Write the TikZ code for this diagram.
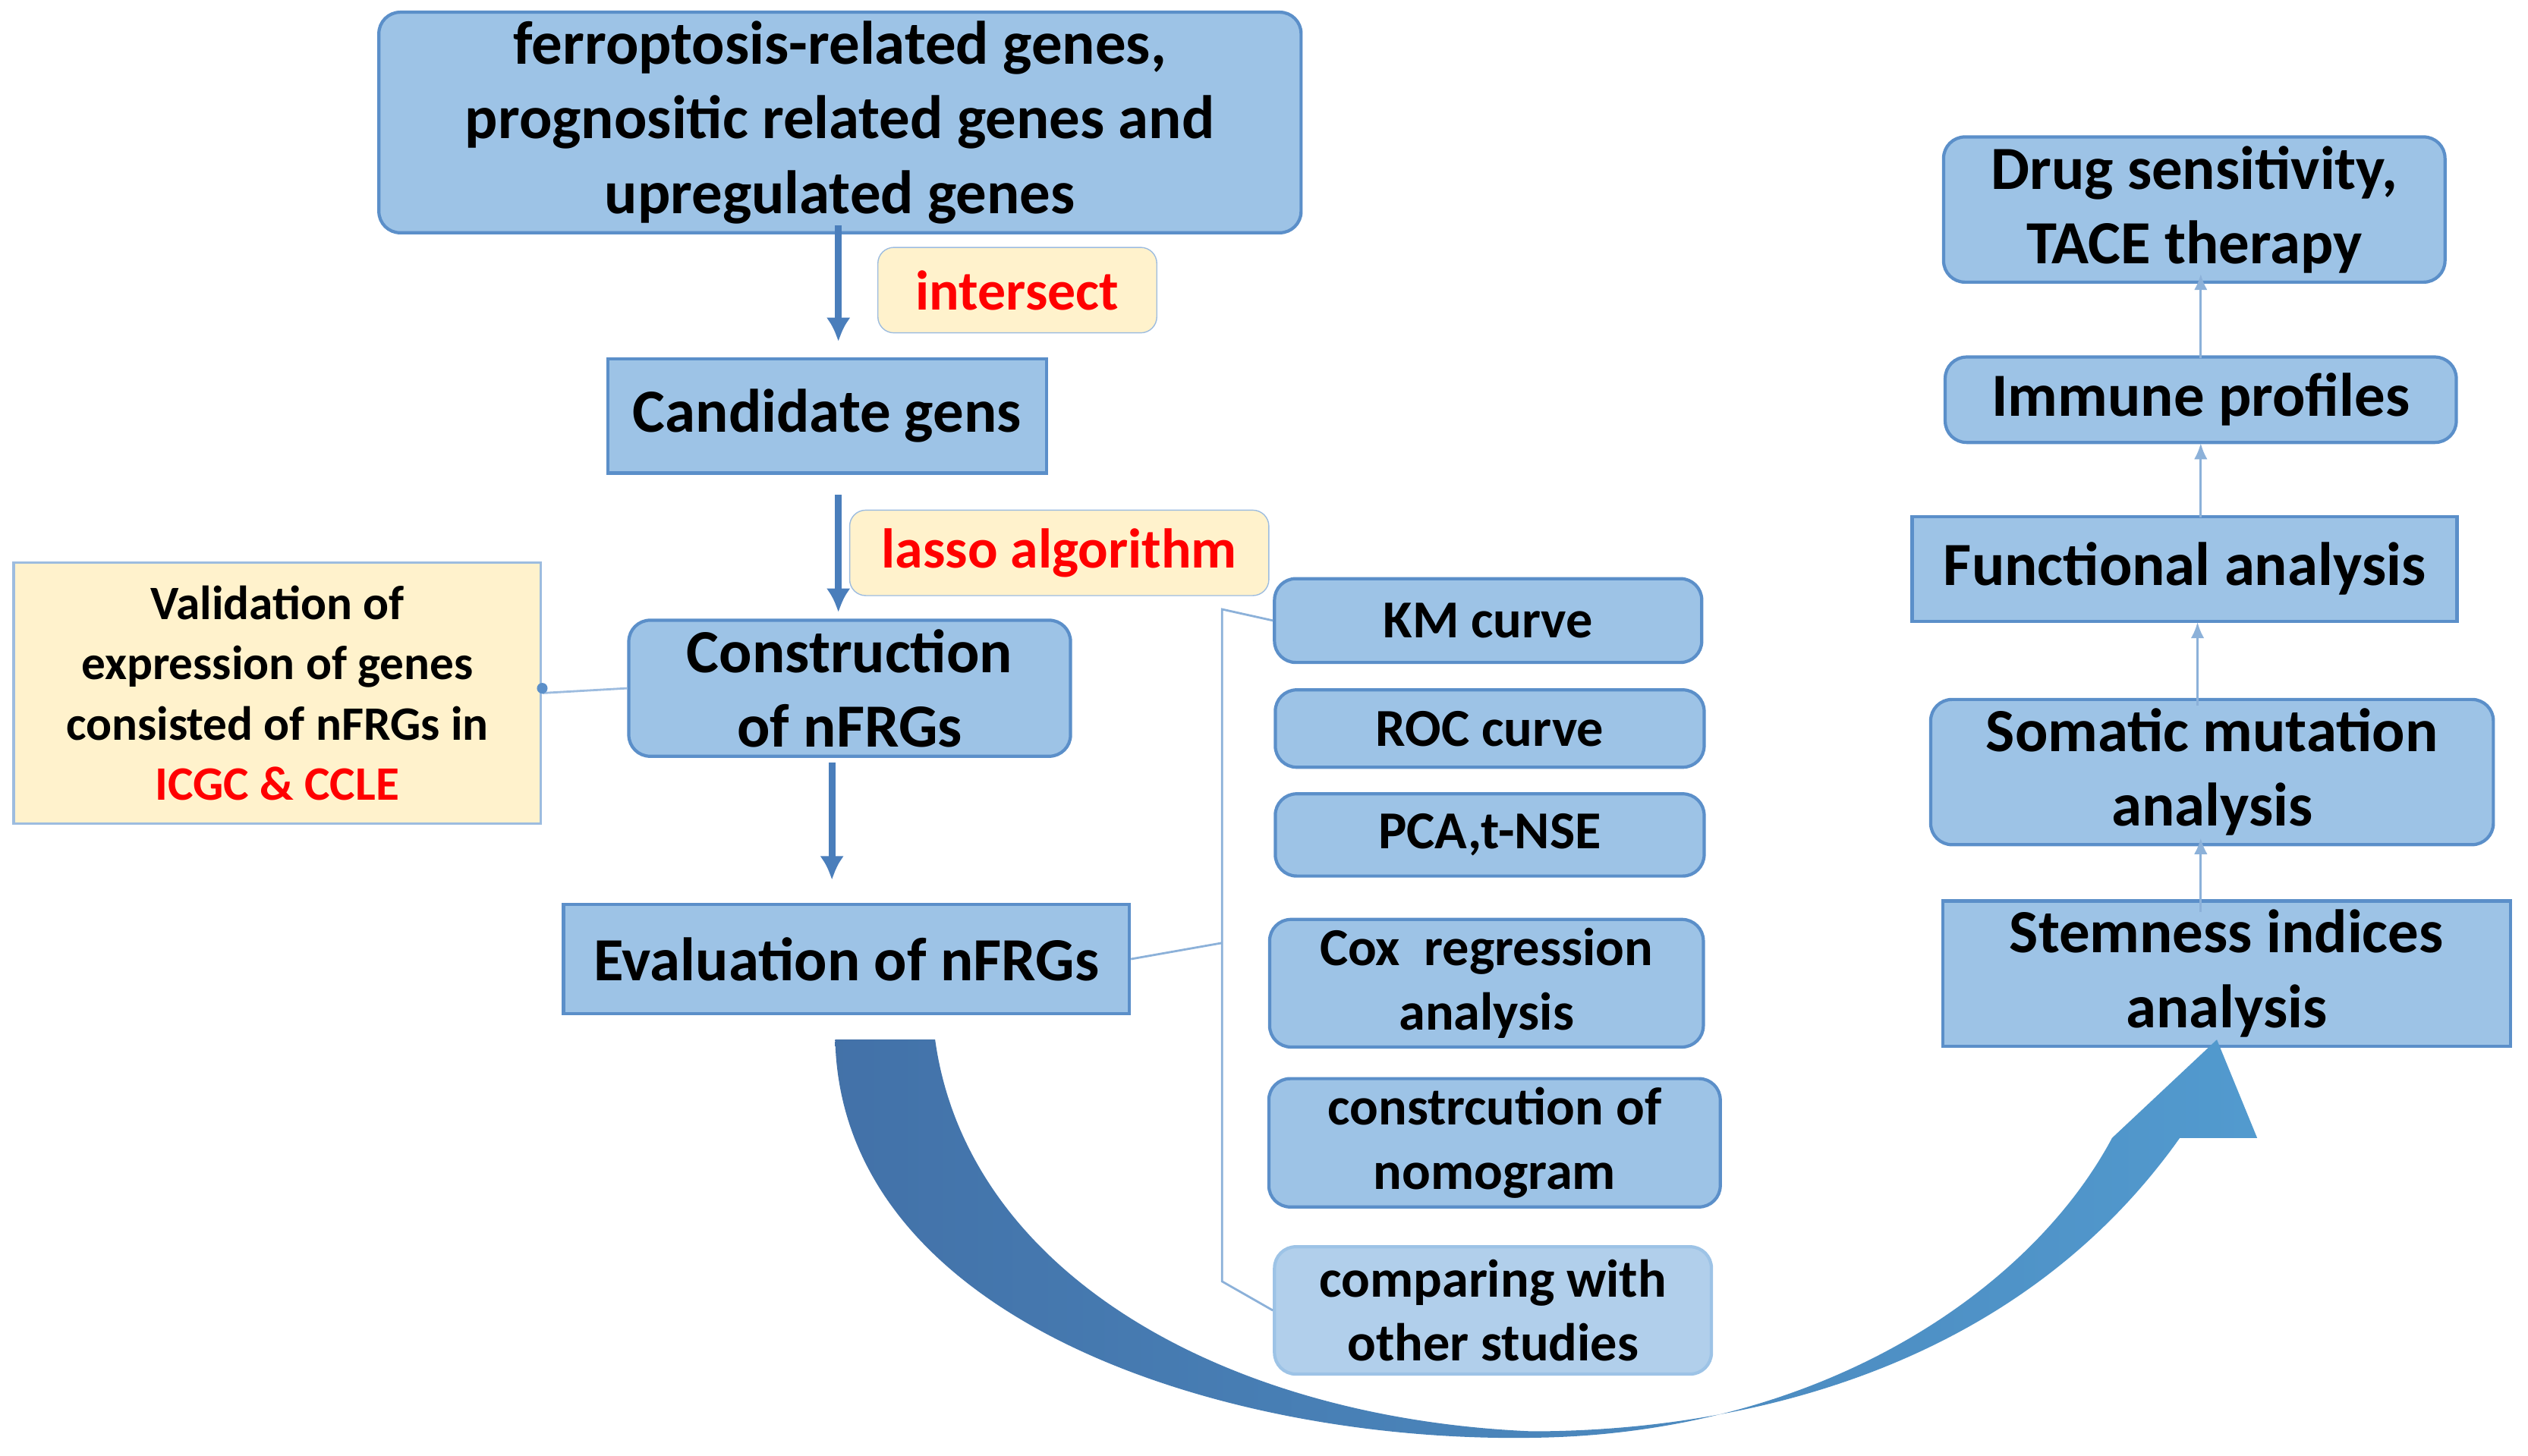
\documentclass[tikz,border=0pt]{standalone}
\usepackage{fontspec}
\setmainfont{Carlito}
\usepackage{xcolor}
\usetikzlibrary{calc,arrows.meta}
\definecolor{boxfill}{HTML}{9DC3E6}
\definecolor{boxline}{HTML}{5B8FC9}
\definecolor{noteyel}{HTML}{FFF2CC}
\definecolor{arrblue}{HTML}{4A7EBB}
\tikzset{
	box/.style={draw=boxline, fill=boxfill, line width=1.2pt, align=center, font=\fontsize{23}{28}\selectfont\bfseries},
	rbox/.style={box, rounded corners=8pt},
	sbox/.style={rbox, font=\fontsize{20}{24}\selectfont\bfseries},
	note/.style={draw=boxline!60, fill=noteyel, rounded corners=6pt, font=\fontsize{21}{25}\selectfont\bfseries, text=red},
	flow/.style={draw=arrblue, line width=2.5pt, -{Latex[length=9pt,width=9pt]}},
	thin/.style={draw=boxline!70, line width=0.8pt, -{Latex[length=6pt,width=5pt]}}
}
\begin{document}
\begin{tikzpicture}[x=0.02124cm, y=-0.02124cm]
		\useasboundingbox (0,0) rectangle (1568,903);
		% left column
		\node[rbox, minimum width=572*0.02124cm, minimum height=124*0.02124cm] (genes) at (521,76)
			{ferroptosis-related genes,\\prognositic related genes and\\upregulated genes};
		\node[note, minimum width=173*0.02124cm, minimum height=53*0.02124cm] (inter) at (631,180) {intersect};
		\node[box, minimum width=272*0.02124cm, minimum height=71*0.02124cm] (cand) at (513,258) {Candidate gens};
		\node[note, minimum width=260*0.02124cm, minimum height=53*0.02124cm] (lasso) at (657,343) {lasso algorithm};
		\node[rbox, minimum width=274*0.02124cm, minimum height=73*0.02124cm] (cons) at (527,427) {Construction\\of nFRGs};
		\node[draw=boxline!60, fill=noteyel, line width=1pt, align=center, font=\fontsize{18}{22.5}\selectfont\bfseries,
			minimum width=327*0.02124cm, minimum height=162*0.02124cm] (valid) at (172,430)
			{Validation of\\expression of genes\\consisted of nFRGs in\\\textcolor{red}{ICGC \& CCLE}};
		\node[box, minimum width=351*0.02124cm, minimum height=68*0.02124cm] (eval) at (525,595) {Evaluation of nFRGs};
		\draw[flow] (520,140) -- (520,212);
		\draw[flow] (520,307) -- (520,380);
		\draw[flow] (516,473) -- (516,546);
		\draw[boxline!60, line width=0.8pt] (cons.west) -- (valid.east);
		\fill[boxline] (cons.west -| valid.east) circle (2pt);
		% evaluation items
		\node[sbox, minimum width=265*0.02124cm, minimum height=52*0.02124cm] (km) at (923,385) {KM curve};
		\node[sbox, minimum width=266*0.02124cm, minimum height=48*0.02124cm] (roc) at (924,452) {ROC curve};
		\node[sbox, minimum width=266*0.02124cm, minimum height=51*0.02124cm] (pca) at (924,518) {PCA,t-NSE};
		\node[sbox, minimum width=269*0.02124cm, minimum height=74*0.02124cm] (cox) at (922,610) {Cox\ \ regression\\analysis};
		\node[sbox, minimum width=280*0.02124cm, minimum height=74*0.02124cm] (nomo) at (927,709) {constrcution of\\nomogram};
		\node[sbox, draw=boxfill, fill=boxfill!80, minimum width=271*0.02124cm, minimum height=79*0.02124cm] (comp) at (926,813) {comparing with\\other studies};
		\draw[boxline!70, line width=0.8pt] (km.west) -- (758,378) -- (758,585) -- (eval.east) (758,585) -- (758,795) -- (comp.west);
		% right column
		\node[rbox, minimum width=311*0.02124cm, minimum height=80*0.02124cm] (drug) at (1361,130) {Drug sensitivity,\\TACE therapy};
		\node[rbox, minimum width=317*0.02124cm, minimum height=53*0.02124cm] (immu) at (1365,248) {Immune profiles};
		\node[box, minimum width=338*0.02124cm, minimum height=65*0.02124cm] (func) at (1355,353) {Functional analysis};
		\node[rbox, minimum width=349*0.02124cm, minimum height=82*0.02124cm] (soma) at (1372,479) {Somatic mutation\\analysis};
		\node[box, minimum width=352*0.02124cm, minimum height=75*0.02124cm] (stem) at (1381,604) {Stemness indices\\analysis};
		\draw[thin] (1365,566) -- (1365,520);
		\draw[thin] (1363,438) -- (1363,386);
		\draw[thin] (1365,321) -- (1365,275);
		\draw[thin] (1365,222) -- (1365,170);
		% big curved arrow
		\shade[left color=arrblue!90!black, right color=boxline!90!cyan]
			(518,645) .. controls (522,820) and (760,895) .. (950,892)
			.. controls (1130,890) and (1260,800) .. (1310,706) -- (1375,645) -- (1400,706) -- (1352,706)
			.. controls (1250,850) and (1080,888) .. (950,888)
			.. controls (760,880) and (600,790) .. (580,645) -- cycle;
	\end{tikzpicture}
\end{document}
